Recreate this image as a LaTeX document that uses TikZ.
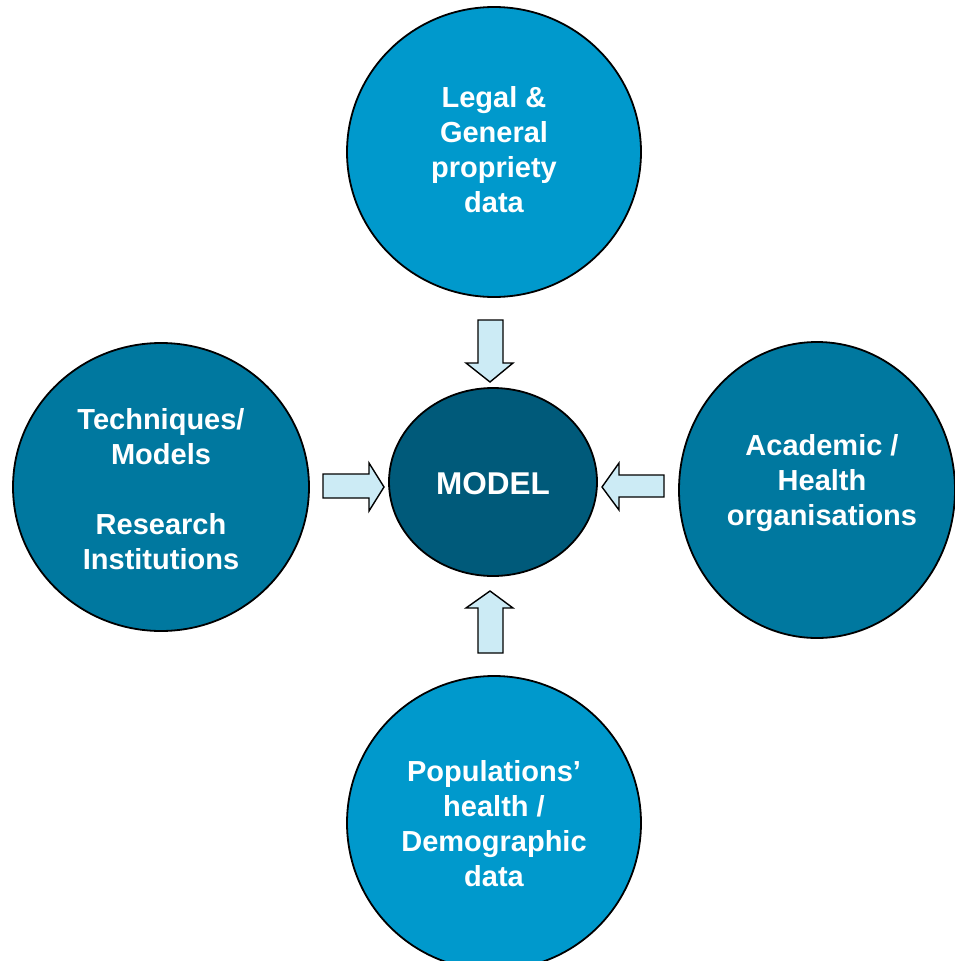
\documentclass[tikz,border=0pt]{standalone}
\usepackage{fontspec}
\setmainfont{Liberation Sans}
\definecolor{lightc}{HTML}{0099CC}
\definecolor{midc}{HTML}{00789F}
\definecolor{darkc}{HTML}{005A7A}
\definecolor{arrowc}{HTML}{CCEBF5}
\begin{document}
\begin{tikzpicture}[x=1pt,y=-1pt,
  blob/.style={draw=black,line width=1.8pt},
  lbl/.style={text=white,align=center,font=\bfseries\fontsize{29}{35}\selectfont},
  blockarrow/.style={draw=black,fill=arrowc,line width=1.4pt,line join=miter}]
\useasboundingbox (0,0) rectangle (955,961);
% circles
\fill[blob,fill=lightc] (494,152) ellipse [x radius=147,y radius=145];
\fill[blob,fill=midc] (161,487) ellipse [x radius=148,y radius=144];
\fill[blob,fill=midc] (817,490) ellipse [x radius=138,y radius=148];
\fill[blob,fill=lightc] (494,823) ellipse [x radius=147,y radius=147];
\fill[blob,fill=darkc] (493,482) ellipse [x radius=104,y radius=94];
% labels
\node[lbl] (top) at (494,150) {Legal \&\\General\\propriety\\data};
\node[lbl] (left) at (161,489) {Techniques/\\Models\\[35pt]Research\\Institutions};
\node[lbl] (right) at (822,483) {Academic /\\Health\\organisations};
\node[lbl] (bottom) at (494,824) {Populations’\\health /\\Demographic\\data};
\node[text=white,font=\bfseries\fontsize{31.5}{38}\selectfont] (model) at (493,484) {MODEL};
% block arrows
\draw[blockarrow] (478,320) -- (503,320) -- (503,363) -- (513,363) -- (490,382) -- (466,363) -- (478,363) -- cycle;
\draw[blockarrow] (478,653) -- (503,653) -- (503,608) -- (513,608) -- (490,591) -- (466,608) -- (478,608) -- cycle;
\draw[blockarrow] (323,474) -- (323,498) -- (369,498) -- (369,511) -- (384,487) -- (369,463) -- (369,474) -- cycle;
\draw[blockarrow] (664,475) -- (664,497) -- (619,497) -- (619,510) -- (602,487) -- (619,463) -- (619,475) -- cycle;
\end{tikzpicture}
\end{document}
